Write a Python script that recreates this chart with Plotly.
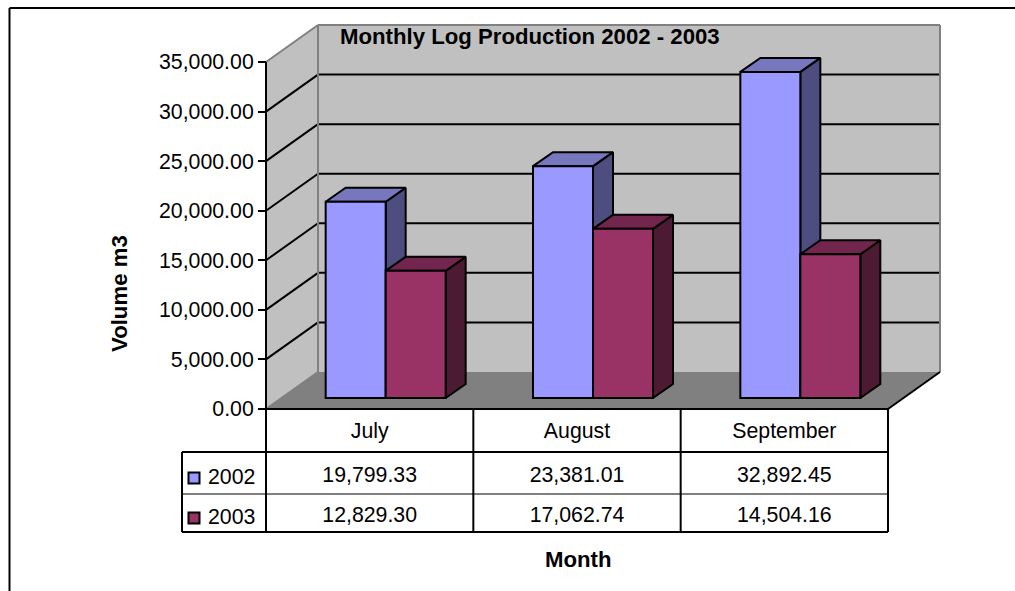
import plotly.graph_objects as go

months = ["July", "August", "September"]
series_names = ["2002", "2003"]
values_2002 = [19799.33, 23381.01, 32892.45]
values_2003 = [12829.30, 17062.74, 14504.16]
value_ticks = [0, 5000, 10000, 15000, 20000, 25000, 30000, 35000]

FRONT = ["#9999FF", "#993366"]
SIDE = ["#4D4D80", "#4D1A33"]
TOP = ["#7777BE", "#73264D"]
FONT = "Liberation Sans, Arial, sans-serif"
FS = 21.3
BOLD = 22.2
W, H = 1015, 591

# page pixel <-> axis unit mapping of the single full-page plot area
PX_CAT = (888 - 266) / 3
PX_VAL = (409 - 62) / 35000


def X(px):
    return (px - 266) / PX_CAT


def Y(py):
    return (409 - py) / PX_VAL


DX, DY = 52 / PX_CAT, 37 / PX_VAL            # wall depth
BDX, BDY = 20 / PX_CAT, 14 / PX_VAL          # bar depth
BASE = 11 / PX_VAL                           # bars stand in mid-floor
BAR_W = 60 / PX_CAT
SHIFT = 16 / PX_CAT

fig = go.Figure()


def poly(xs, ys, fill, line="rgba(0,0,0,0)", width=0):
    fig.add_trace(go.Scatter(x=xs, y=ys, mode="lines", fill="toself", fillcolor=fill,
                             line=dict(color=line, width=width), hoverinfo="skip", showlegend=False))


def lines(segs, color="#000000", width=2):
    xs, ys = [], []
    for (x0, y0, x1, y1) in segs:
        xs += [x0, x1, None]
        ys += [y0, y1, None]
    fig.add_trace(go.Scatter(x=xs, y=ys, mode="lines", line=dict(color=color, width=width),
                             hoverinfo="skip", showlegend=False))


top_v = value_ticks[-1]
# walls and floor
poly([0, DX, DX, 0, 0], [top_v, top_v + DY, DY, 0, top_v], "#C0C0C0")
poly([DX, 3 + DX, 3 + DX, DX, DX], [top_v + DY, top_v + DY, DY, DY, top_v + DY], "#C0C0C0")
poly([0, DX, 3 + DX, 3, 0], [0, DY, DY, 0, 0], "#808080")
# grid
lines([(0, v, DX, v + DY) for v in value_ticks[1:-1]] + [(DX, v + DY, 3 + DX, v + DY) for v in value_ticks[1:-1]])
# wall edges
lines([(0, top_v, DX, top_v + DY), (DX, top_v + DY, 3 + DX, top_v + DY),
       (3 + DX, top_v + DY, 3 + DX, DY), (DX, top_v + DY, DX, DY), (0, 0, DX, DY)], color="#808080")
# front floor edge, value axis
lines([(3, 0, 3 + DX, DY), (0, 0, 3, 0), (0, 0, 0, top_v)])

# bar sides and tops
for j, vals in enumerate([values_2002, values_2003]):
    for i, v in enumerate(vals):
        xl = i + 0.5 + SHIFT - BAR_W + j * BAR_W
        xr = xl + BAR_W
        t = BASE + v
        poly([xr, xr + BDX, xr + BDX, xr, xr], [t, t + BDY, BASE + BDY, BASE, t], SIDE[j], "#000000", 2)
        poly([xl, xl + BDX, xr + BDX, xr, xl], [t, t + BDY, t + BDY, t, t], TOP[j], "#000000", 2)

# front faces
for j, vals in enumerate([values_2002, values_2003]):
    fig.add_trace(go.Bar(x=[i + 0.5 + SHIFT - BAR_W / 2 + (j - 1) * BAR_W + BAR_W for i in range(3)],
                         y=vals, base=BASE, width=BAR_W, name=series_names[j],
                         marker=dict(color=FRONT[j], line=dict(color="#000000", width=2)),
                         xaxis="x2", yaxis="y2", showlegend=False))

# data table
r0, r1, r2, r3 = Y(409), Y(452), Y(494), Y(532)
lx = X(182)
lines([(lx, r1, 3, r1), (lx, r3, 3, r3), (lx, r1, lx, r3), (0, r0, 0, r3),
       (1, r0, 1, r3), (2, r0, 2, r3), (3, r0, 3, r3)])
lines([(lx, r2, 3, r2)], width=1)

row_text_y = [Y(477), Y(517)]
row_mark_y = [Y(478), Y(518)]
row_name_y = [Y(479), Y(519)]
for j, vals in enumerate([values_2002, values_2003]):
    fig.add_trace(go.Scatter(x=[i + 0.5 for i in range(3)], y=[row_text_y[j]] * 3, mode="text",
                             text=[f"{v:,.2f}" for v in vals], textposition="middle center",
                             textfont=dict(family=FONT, size=FS, color="#000000"),
                             hoverinfo="skip", showlegend=False))
    fig.add_trace(go.Scatter(x=[X(194)], y=[row_mark_y[j]], mode="markers",
                             marker=dict(symbol="square", size=11, color=FRONT[j],
                                         line=dict(color="#000000", width=2)),
                             hoverinfo="skip", showlegend=False))
    fig.add_trace(go.Scatter(x=[X(208)], y=[row_name_y[j]], mode="text", text=[series_names[j]],
                             textposition="middle right",
                             textfont=dict(family=FONT, size=FS, color="#000000"),
                             hoverinfo="skip", showlegend=False))

x_range = [X(0), X(W)]
y_range = [Y(H), Y(0)]
fig.update_layout(
    width=W, height=H, margin=dict(l=0, r=0, t=0, b=0), autosize=False,
    paper_bgcolor="#FFFFFF", plot_bgcolor="#FFFFFF", showlegend=False,
    barmode="overlay",
    font=dict(family=FONT, size=FS, color="#000000"),
    title=dict(text="<b>Monthly Log Production 2002 - 2003</b>", x=340 / W, xanchor="left",
               y=1 - 36.5 / H, yanchor="middle", font=dict(family=FONT, size=BOLD, color="#000000")),
    xaxis=dict(range=x_range, domain=[0, 1], anchor="free", position=1 - 409 / H, showgrid=False,
               zeroline=False, showline=False, tickmode="array", tickvals=[0.5, 1.5, 2.5], ticktext=months,
               ticks="outside", ticklen=2, tickcolor="rgba(0,0,0,0)", tickfont=dict(family=FONT, size=FS)),
    yaxis=dict(range=y_range, domain=[0, 1], anchor="free", position=266 / W, showgrid=False,
               zeroline=False, showline=False, tickmode="array", tickvals=value_ticks, tickformat=",.2f",
               ticks="outside", ticklen=8, tickwidth=2, tickcolor="#000000", tickfont=dict(family=FONT, size=FS)),
    xaxis2=dict(range=x_range, overlaying="x", visible=False, anchor="y2"),
    yaxis2=dict(range=y_range, overlaying="y", visible=False, anchor="x2"),
    annotations=[
        dict(text="<b>Volume m3</b>", x=120 / W, y=1 - 294 / H, xref="paper", yref="paper", textangle=-90,
             xanchor="center", yanchor="middle", showarrow=False,
             font=dict(family=FONT, size=BOLD, color="#000000")),
        dict(text="<b>Month</b>", x=578 / W, y=1 - 559 / H, xref="paper", yref="paper",
             xanchor="center", yanchor="middle", showarrow=False,
             font=dict(family=FONT, size=BOLD, color="#000000")),
    ],
    shapes=[
        dict(type="line", xref="paper", yref="paper", x0=9.5 / W, x1=1, y0=1 - 8 / H, y1=1 - 8 / H,
             line=dict(color="#000000", width=2)),
        dict(type="line", xref="paper", yref="paper", x0=9.5 / W, x1=9.5 / W, y0=1 - 8 / H, y1=0,
             line=dict(color="#000000", width=2)),
    ],
)

fig.write_html("out.html", config={"displayModeBar": False},
               post_script="document.body.style.margin='0';document.body.style.overflow='hidden';")
